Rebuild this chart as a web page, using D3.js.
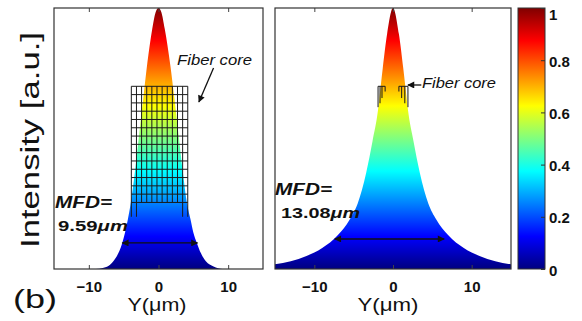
<!DOCTYPE html>
<html>
<head>
<meta charset="utf-8">
<script src="https://cdn.jsdelivr.net/npm/d3@7"></script>
<style>
  body { margin: 0; background: #fff; }
  text { font-family: "Liberation Sans", Arial, sans-serif; fill: #111; }
</style>
</head>
<body>
<script>
// intensity profiles (Y in um, normalised intensity)
const leftY = [-9, -8, -7, -6.2, -5.6, -5.2, -4.8, -4.4, -4.0, -3.4, -2.8, -2.2, -1.6, -0.9, -0.4, 0,
  0.4, 0.9, 1.7, 2.3, 2.9, 3.5, 4.1, 4.6, 5.0, 5.5, 6.1, 6.8, 7.9, 9.2]
const leftI = [0, 0.004, 0.015, 0.04, 0.07, 0.10, 0.14, 0.19, 0.25, 0.37, 0.51, 0.65, 0.79, 0.92, 0.985, 1,
  0.985, 0.92, 0.78, 0.65, 0.51, 0.37, 0.25, 0.19, 0.14, 0.10, 0.06, 0.03, 0.01, 0]

const rightY = [-15, -13, -11, -9, -7, -5.5, -4.5, -3.4, -2.6, -1.9, -1.6, -1.3, -0.75, 0,
  0.75, 1.3, 1.6, 1.9, 2.6, 3.4, 4.5, 5.5, 7, 9, 11, 13, 15]
const rightI = [0.018, 0.03, 0.05, 0.08, 0.13, 0.19, 0.25, 0.37, 0.49, 0.61, 0.69, 0.77, 0.9, 1,
  0.9, 0.77, 0.69, 0.61, 0.49, 0.37, 0.25, 0.19, 0.13, 0.08, 0.05, 0.03, 0.018]

const xTicks = [-10, 0, 10]
const cbTicks = [0, 0.2, 0.4, 0.6, 0.8, 1]

// fiber core mesh (left) : Y extent, intensity extent, number of cells
const coreLeftX = [-3.9, 4.2]
const coreLeftI = [0.70, 0.255]
const coreLeftCells = [11, 14]
// fiber core remains (right)
const coreRightCols = [-1.9, -1.65, -1.4, -1.0, 0.75, 1.1, 1.5, 1.9]
const coreRightBottom = [0.62, 0.635, 0.655, 0.68, 0.68, 0.655, 0.635, 0.62]
const coreRightTop = 0.70

// jet colormap
const jet = [[0, "#000080"], [0.125, "#0000ff"], [0.375, "#00ffff"], [0.625, "#ffff00"], [0.875, "#ff0000"], [1, "#800000"]]

const svg = d3.select("body").append("svg").attr("width", 582).attr("height", 321)
const defs = svg.append("defs")

const y = d3.scaleLinear().domain([0, 1]).range([269, 8])

const grad = defs.append("linearGradient").attr("id", "jet")
  .attr("gradientUnits", "userSpaceOnUse")
  .attr("x1", 0).attr("x2", 0).attr("y1", y(0)).attr("y2", y(1))
grad.selectAll("stop").data(jet).enter().append("stop")
  .attr("offset", d => d[0]).attr("stop-color", d => d[1])

defs.append("marker").attr("id", "head")
  .attr("viewBox", "0 0 10 10").attr("refX", 9).attr("refY", 5)
  .attr("markerWidth", 9).attr("markerHeight", 7).attr("markerUnits", "userSpaceOnUse")
  .attr("orient", "auto-start-reverse")
  .append("path").attr("d", "M0,0L10,5L0,10z").attr("fill", "#111")

const panels = [
  { left: 54, right: 263, ys: leftY, is: leftI },
  { left: 275, right: 511, ys: rightY, is: rightI },
]

panels.forEach(p => {
  p.x = d3.scaleLinear().domain([-15, 15]).range([p.left, p.right])
  const g = svg.append("g")
  const data = p.ys.map((v, i) => ({ y: v, i: p.is[i] }))
  g.append("path").datum(data)
    .attr("fill", "url(#jet)")
    .attr("d", d3.area().x(d => p.x(d.y)).y0(y(0)).y1(d => y(d.i)).curve(d3.curveMonotoneX))

  g.append("g").attr("transform", `translate(0,${y(0)})`)
    .call(d3.axisBottom(p.x).tickValues(xTicks).tickSize(-4).tickPadding(12).tickFormat(d3.format("d")))
    .call(a => a.select(".domain").remove())
    .call(a => a.selectAll("text").attr("font-size", 15).attr("font-weight", "bold")
      .attr("font-family", "Liberation Sans, Arial, sans-serif").attr("fill", "#111"))
    .call(a => a.selectAll("line").attr("stroke", "#444"))
  g.append("g").attr("transform", `translate(0,${y(1)})`)
    .call(d3.axisTop(p.x).tickValues(xTicks).tickSize(-4).tickFormat(""))
    .call(a => a.select(".domain").remove())
    .call(a => a.selectAll("line").attr("stroke", "#444"))

  g.append("rect").attr("x", p.left).attr("y", y(1))
    .attr("width", p.right - p.left).attr("height", y(0) - y(1))
    .attr("fill", "none").attr("stroke", "#333").attr("stroke-width", 1.2)
})

// left mesh
{
  const p = panels[0]
  const cols = d3.range(coreLeftCells[0] + 1).map(k => coreLeftX[0] + k * (coreLeftX[1] - coreLeftX[0]) / coreLeftCells[0])
  const rows = d3.range(coreLeftCells[1] + 1).map(k => coreLeftI[0] + k * (coreLeftI[1] - coreLeftI[0]) / coreLeftCells[1])
  const mesh = svg.append("g").attr("stroke", "#1a1a1a").attr("stroke-width", 1)
  mesh.selectAll(".v").data(cols).enter().append("line")
    .attr("x1", d => p.x(d)).attr("x2", d => p.x(d))
    .attr("y1", y(coreLeftI[0]))
    .attr("y2", (d, k) => (k < 2 || k > cols.length - 3) ? y(0.2) : y(coreLeftI[1]))
  mesh.selectAll(".h").data(rows).enter().append("line")
    .attr("x1", p.x(coreLeftX[0])).attr("x2", p.x(coreLeftX[1]))
    .attr("y1", d => y(d)).attr("y2", d => y(d))
}

// right mesh remains
{
  const p = panels[1]
  const mesh = svg.append("g").attr("stroke", "#1a1a1a").attr("stroke-width", 1)
  mesh.selectAll("line.v").data(coreRightCols).enter().append("line")
    .attr("x1", d => p.x(d)).attr("x2", d => p.x(d))
    .attr("y1", y(coreRightTop)).attr("y2", (d, k) => y(coreRightBottom[k]))
  ;[[coreRightCols[0], coreRightCols[3]], [coreRightCols[4], coreRightCols[7]]].forEach(s => {
    mesh.append("line").attr("x1", p.x(s[0])).attr("x2", p.x(s[1]))
      .attr("y1", y(coreRightTop)).attr("y2", y(coreRightTop))
  })
}

// arrows
function arrow(p, a, b, both) {
  svg.append("line")
    .attr("x1", p.x(a[0])).attr("y1", y(a[1])).attr("x2", p.x(b[0])).attr("y2", y(b[1]))
    .attr("stroke", "#111").attr("stroke-width", 1.3)
    .attr("marker-end", "url(#head)")
    .attr("marker-start", both ? "url(#head)" : null)
}
arrow(panels[0], [-5.2, 0.10], [5.6, 0.10], true)
arrow(panels[1], [-7.4, 0.115], [6.5, 0.115], true)
arrow(panels[0], [7.9, 0.77], [5.8, 0.64], false)
arrow(panels[1], [3.6, 0.705], [1.9, 0.705], false)

// text helper
function label(x, yy, str, size, opts = {}) {
  const t = svg.append("text").attr("x", x).attr("y", yy)
    .attr("font-size", size)
    .attr("font-weight", opts.bold ? "bold" : "normal")
    .attr("font-style", opts.italic ? "italic" : "normal")
    .attr("text-anchor", opts.anchor || "start")
  if (opts.len) t.attr("textLength", opts.len).attr("lengthAdjust", "spacingAndGlyphs")
  if (opts.rotate) t.attr("transform", `rotate(${opts.rotate},${x},${yy})`)
  t.text(str)
  return t
}

label(39, 140, "Intensity [a.u.]", 26, { anchor: "middle", rotate: -90, len: 216 })
label(13, 308, "(b)", 25, { len: 44 })
label(157, 311, "Y(\u03bcm)", 18, { anchor: "middle", len: 59 })
label(388, 311, "Y(\u03bcm)", 18, { anchor: "middle", len: 61 })

label(177, 65, "Fiber core", 15, { italic: true, len: 75 })
label(422, 88, "Fiber core", 15, { italic: true, len: 74 })

label(55, 208, "MFD=", 16, { bold: true, italic: true, len: 57 })
label(275, 195, "MFD=", 16, { bold: true, italic: true, len: 57 })

const m1 = label(58, 231, "9.59", 15, { bold: true, len: 70 })
m1.append("tspan").attr("font-style", "italic").text("\u03bcm")
const m2 = label(281, 218, "13.08", 15, { bold: true, len: 79 })
m2.append("tspan").attr("font-style", "italic").text("\u03bcm")

// colorbar
const cb = svg.append("g")
cb.append("rect").attr("x", 518).attr("y", y(1)).attr("width", 27).attr("height", y(0) - y(1))
  .attr("fill", "url(#jet)").attr("stroke", "#333").attr("stroke-width", 1)
cb.append("g").attr("transform", "translate(545,0)")
  .call(d3.axisRight(y).tickValues(cbTicks).tickSize(-4).tickPadding(4)
    .tickFormat(d => (d === 0 || d === 1) ? d : d.toFixed(1)))
  .call(a => a.select(".domain").remove())
  .call(a => a.selectAll("line").attr("stroke", "#333"))
  .call(a => a.selectAll("text").attr("font-size", 15).attr("font-weight", "bold")
    .attr("font-family", "Liberation Sans, Arial, sans-serif").attr("fill", "#111")
    .attr("dy", d => d === 1 ? "0.75em" : "0.4em"))
</script>
</body>
</html>
